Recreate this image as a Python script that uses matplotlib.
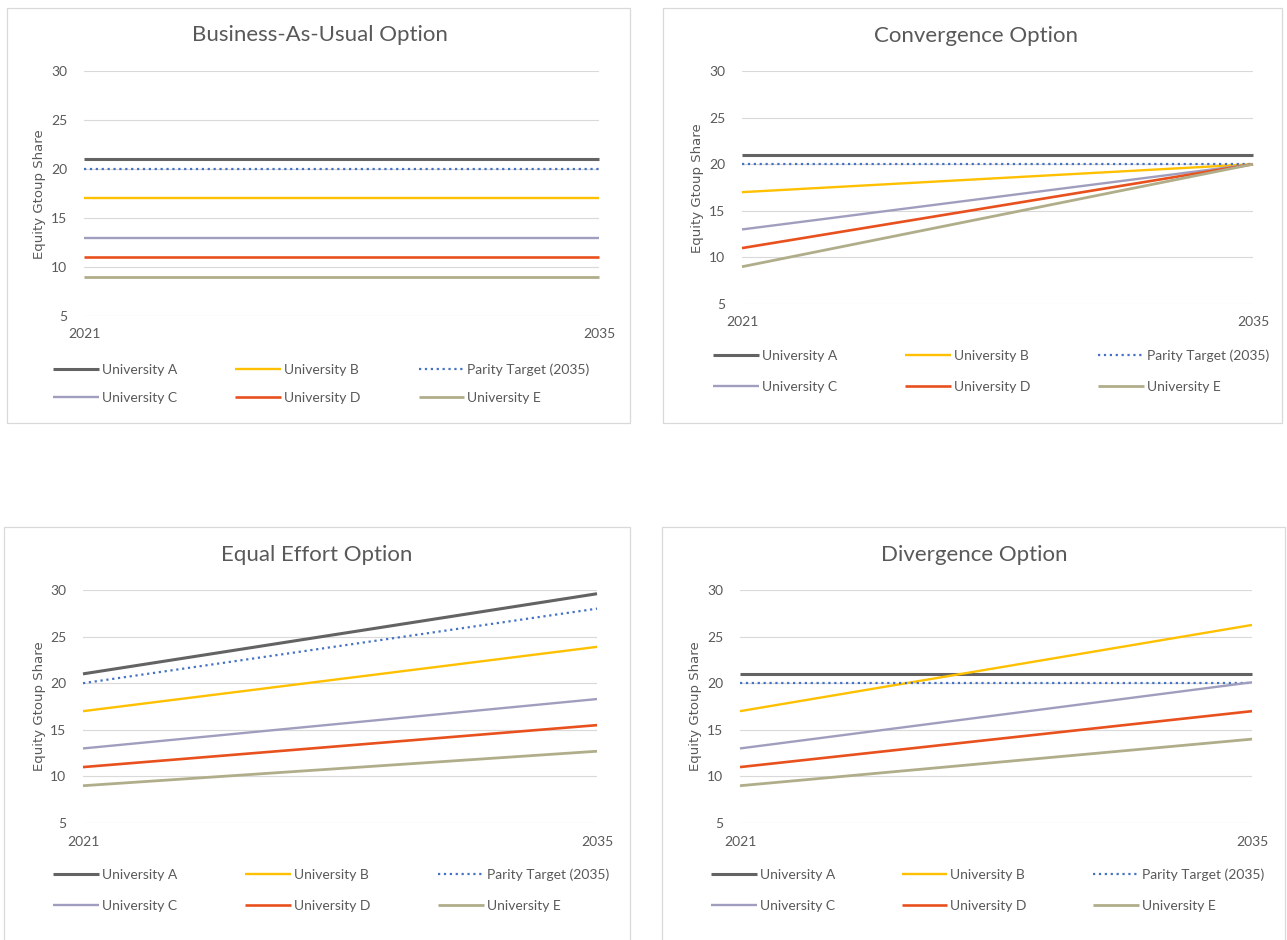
import matplotlib
matplotlib.use("Agg")
import matplotlib.pyplot as plt
from matplotlib.patches import Rectangle

plt.rcParams['font.family'] = ['Lato', 'DejaVu Sans']

# shared series setup
years = [2021, 2035]
labels = ["University A", "University B", "Parity Target (2035)",
          "University C", "University D", "University E"]
start_2021 = [21, 17, 20, 13, 11, 9]

# 2035 value of each series under the four options
bau_2035 = [21, 17, 20, 13, 11, 9]
convergence_2035 = [21, 20, 20, 20, 20, 20]
equal_effort_2035 = [29.6, 23.9, 28.0, 18.3, 15.5, 12.7]
divergence_2035 = [21, 26.25, 20, 20.1, 17.0, 14.0]

titles = ["Business-As-Usual Option", "Convergence Option",
          "Equal Effort Option", "Divergence Option"]
y_ticks = [5, 10, 15, 20, 25, 30]

colors = ["#636363", "#FFC000", "#4472C4", "#A09EBE", "#E8501E", "#B0AE8A"]
styles = ["-", "-", ":", "-", "-", "-"]
widths = [2.2, 1.7, 1.6, 1.7, 1.9, 2.0]

W, H = 1287, 940
fig = plt.figure(figsize=(W / 100, H / 100), dpi=100)


def fx(x):
    return x / W


def fy(y):
    return 1 - y / H


# pixel layout per panel: border box, plot box, title centre, ylabel centre, legend
panels = [
    dict(box=(7, 8, 630, 423), plot=(84, 71, 599, 316), title=(320, 35),
         ylab=(40, 194), leg=(53, 363), rowgap=1.2, colgap=4.2, end=bau_2035),
    dict(box=(663, 8, 1282, 423), plot=(742, 71, 1253, 304), title=(976, 36),
         ylab=(697, 188), leg=(713, 349), rowgap=1.4, colgap=4.9,
         end=convergence_2035),
    dict(box=(4, 527, 630, 960), plot=(83, 590, 597, 823), title=(317, 555),
         ylab=(39, 706), leg=(53, 868), rowgap=1.4, colgap=4.9,
         end=equal_effort_2035),
    dict(box=(662, 527, 1285, 960), plot=(740, 590, 1252, 823), title=(974, 555),
         ylab=(695, 706), leg=(711, 868), rowgap=1.4, colgap=4.8,
         end=divergence_2035),
]

for p, title in zip(panels, titles):
    x0, y0, x1, y1 = p["box"]
    fig.patches.append(Rectangle((fx(x0), fy(y1)), fx(x1) - fx(x0), fy(y0) - fy(y1),
                                 transform=fig.transFigure, fill=False,
                                 edgecolor="#D9D9D9", linewidth=0.9))
    l, t, r, b = p["plot"]
    ax = fig.add_axes([fx(l), fy(b), fx(r) - fx(l), fy(t) - fy(b)])
    handles = []
    for i in range(len(labels)):
        line, = ax.plot(years, [start_2021[i], p["end"][i]], color=colors[i],
                        linestyle=styles[i], linewidth=widths[i],
                        solid_capstyle="butt", label=labels[i], clip_on=False)
        handles.append(line)
    ax.set_xlim(years)
    ax.set_ylim(5, 30)
    ax.set_xticks(years)
    ax.set_yticks(y_ticks)
    ax.grid(axis="y", color="#D9D9D9", linewidth=0.8)
    ax.set_axisbelow(True)
    for s in ax.spines.values():
        s.set_visible(False)
    ax.tick_params(length=0, labelsize=10, labelcolor="#595959")
    ax.tick_params(axis="y", pad=12)
    ax.tick_params(axis="x", pad=9)

    fig.text(fx(p["title"][0]), fy(p["title"][1]), title, ha="center", va="center",
             fontsize=16, color="#595959")
    fig.text(fx(p["ylab"][0]), fy(p["ylab"][1]), "Equity Gtoup Share", rotation=90,
             ha="center", va="center", fontsize=9.5, color="#595959",
             family="DejaVu Sans")

    # row-wise legend order: A B P / C D E
    order = [0, 3, 1, 4, 2, 5]
    fig.legend([handles[k] for k in order], [labels[k] for k in order], ncol=3,
               loc="upper left", bbox_to_anchor=(fx(p["leg"][0]), fy(p["leg"][1])),
               frameon=False, fontsize=10, labelcolor="#595959",
               handlelength=3.3, handletextpad=0.2, columnspacing=p["colgap"],
               labelspacing=p["rowgap"], borderpad=0, borderaxespad=0)

fig.savefig("out.png", dpi=100)
